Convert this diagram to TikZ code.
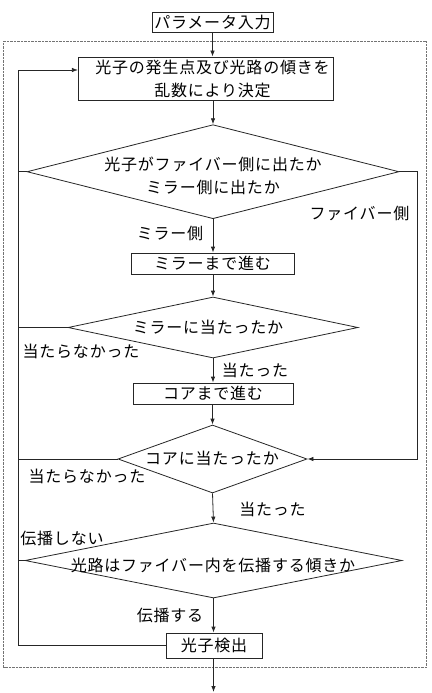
\documentclass[tikz,border=0pt]{standalone}
\usepackage{fontspec}
\newfontfamily\jp{Noto Sans CJK JP}[LetterSpace=5]
\usetikzlibrary{arrows.meta,shapes.geometric}

\begin{document}
\begin{tikzpicture}[x=1pt,y=-1pt,
  every node/.style={font=\jp\fontsize{16}{23}\selectfont, inner sep=0pt},
  line/.style={draw=black!85, line width=0.8pt},
  arr/.style={line, -{Latex[length=6pt,width=4.5pt]}},
  procbox/.style={rectangle, line, fill=white},
  decision/.style={diamond, line, fill=white},
  txt/.style={align=center},
  frame/.style={draw=black!55, line width=0.7pt, dash pattern=on 0.7pt off 0.7pt}
]
\useasboundingbox (0,0) rectangle (431,693);

% dotted outline of the simulation loop
\draw[frame] (3.5,41.5) rectangle (426,667.5);

% process boxes
\node[procbox, minimum width=121pt, minimum height=20pt] (start) at (212.5,22) {パラメータ入力};
\node[procbox, minimum width=255pt, minimum height=43pt] (init) at (205.8,78.5) {};
\node[txt] (initT) at (212.5,79) {光子の発生点及び光路の傾きを\\乱数により決定};
\node[procbox, minimum width=163pt, minimum height=21pt] (mirror) at (212.5,263.5) {ミラーまで進む};
\node[procbox, minimum width=160pt, minimum height=21pt] (core) at (213,393.5) {コアまで進む};
\node[procbox, minimum width=96pt, minimum height=25pt] (detect) at (214,645.5) {光子検出};

% decisions
\node[decision, minimum width=372pt, minimum height=94pt] (q1) at (213,171.7) {};
\node[txt] (q1T) at (213,175.5) {光子がファイバー側に出たか\\ミラー側に出たか};
\node[decision, minimum width=290pt, minimum height=61pt] (q2) at (213,327.5) {};
\node[txt] (q2T) at (208,327) {ミラーに当たったか};
\node[decision, minimum width=189pt, minimum height=68pt] (q3) at (212.5,459) {};
\node[txt] (q3T) at (212,458) {コアに当たったか};
\node[decision, minimum width=377pt, minimum height=75pt] (q4) at (213.5,560.5) {};
\node[txt] (q4T) at (213,565) {光路はファイバー内を伝播する傾きか};

% branch labels
\node (lFiber) at (359.5,213.5) {ファイバー側};
\node (lMirror) at (170,233.5) {ミラー側};
\node (lMiss1) at (81,351.7) {当たらなかった};
\node (lHit1) at (255,370) {当たった};
\node (lMiss2) at (87,476.7) {当たらなかった};
\node (lHit2) at (272.5,509) {当たった};
\node (lNoProp) at (62,538) {伝播しない};
\node (lProp) at (170,615) {伝播する};

% loop-back rail
\coordinate (loopTop) at (18,70);
\coordinate (outEnd) at (213.5,692);

% main flow
\draw[arr] (start.south) -- (start.south |- init.north);
\draw[arr] (q1.north |- init.south) -- (q1.north);
\draw[arr] (q1.south) -- (q1.south |- mirror.north);
\draw[arr] (q2.north |- mirror.south) -- (q2.north);
\draw[arr] (q2.south) -- (q2.south |- core.north);
\draw[arr] (q3.north |- core.south) -- (q3.north);
\draw[arr] (q3.south) -- (q4.north);
\draw[arr] (q4.south) -- (q4.south |- detect.north);
\draw[arr] (detect.south -| outEnd) -- (outEnd);

% fibre side goes straight to the core check
\draw[arr] (q1.east) -- ++(18,0) |- (q3.east);

% returns to a new photon
\draw[arr] (detect.west) -| (loopTop) -- (loopTop -| init.west);
\draw[line] (q1.west) -- (q1.west -| loopTop);
\draw[line] (q2.west) -- (q2.west -| loopTop);
\draw[line] (q3.west) -- (q3.west -| loopTop);
\draw[line] (q4.west) -- (q4.west -| loopTop);
\end{tikzpicture}
\end{document}
